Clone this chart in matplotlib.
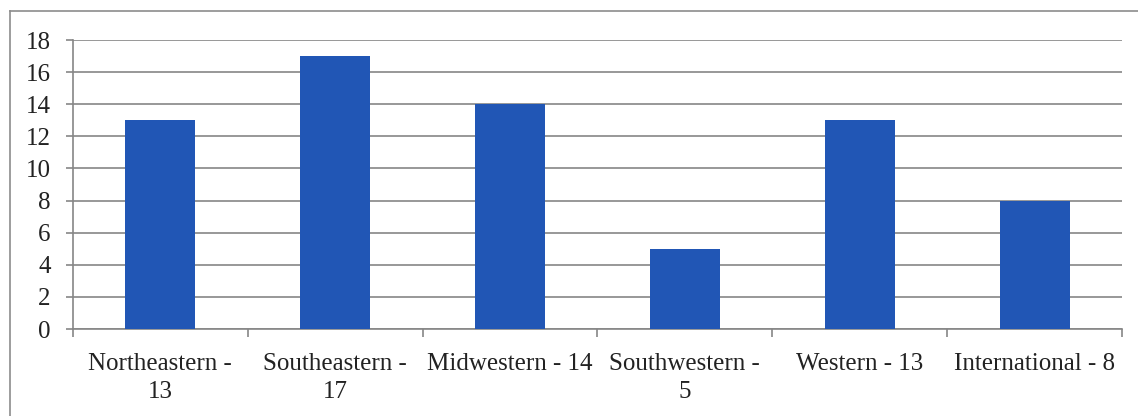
import matplotlib.pyplot as plt
from matplotlib.lines import Line2D

plt.rcParams['font.family'] = ['Liberation Serif', 'DejaVu Serif']

regions = ["Northeastern", "Southeastern", "Midwestern", "Southwestern", "Western", "International"]
counts = [13, 17, 14, 5, 13, 8]
wrapped = ["Northeastern", "Southeastern", "Southwestern"]
yticks = [0, 2, 4, 6, 8, 10, 12, 14, 16, 18]

labels = []
for name, n in zip(regions, counts):
    sep = " -\n" if name in wrapped else " - "
    labels.append(f"{name}{sep}{n}")

grey = "#868686"

fig = plt.figure(figsize=(11.38, 4.16), dpi=100)
ax = fig.add_axes([0.0641, 0.2091, 0.9218, 0.6947])

x = range(len(regions))
ax.bar(x, counts, width=0.4, color="#2156b5", zorder=3)

ax.set_xlim(-0.5, len(regions) - 0.5)
ax.set_ylim(0, 18)
ax.set_yticks(yticks)
ax.yaxis.grid(True, color=grey, linewidth=1.2)
ax.set_axisbelow(True)

# categories are labelled at the centre, ticks sit between them
ax.set_xticks(list(x))
ax.set_xticklabels(labels, fontsize=18, color="#222222", linespacing=1.4)
ax.set_xticks([i - 0.5 for i in range(len(regions) + 1)], minor=True)
ax.tick_params(axis="x", which="major", length=0, pad=17)
ax.tick_params(axis="x", which="minor", length=6, width=1.2, color=grey)
ax.tick_params(axis="y", length=5, width=1.2, color=grey, labelsize=18,
               labelcolor="#222222", pad=11)

for side in ["top", "right"]:
    ax.spines[side].set_visible(False)
for side in ["left", "bottom"]:
    ax.spines[side].set_color(grey)
    ax.spines[side].set_linewidth(1.2)

# chart frame
fig.add_artist(Line2D([0.0088, 1.0], [0.974, 0.974], color="#8c8c8c", linewidth=1.2))
fig.add_artist(Line2D([0.0088, 0.0088], [0.0, 0.974], color="#8c8c8c", linewidth=1.2))

fig.savefig("out.png", dpi=100)
